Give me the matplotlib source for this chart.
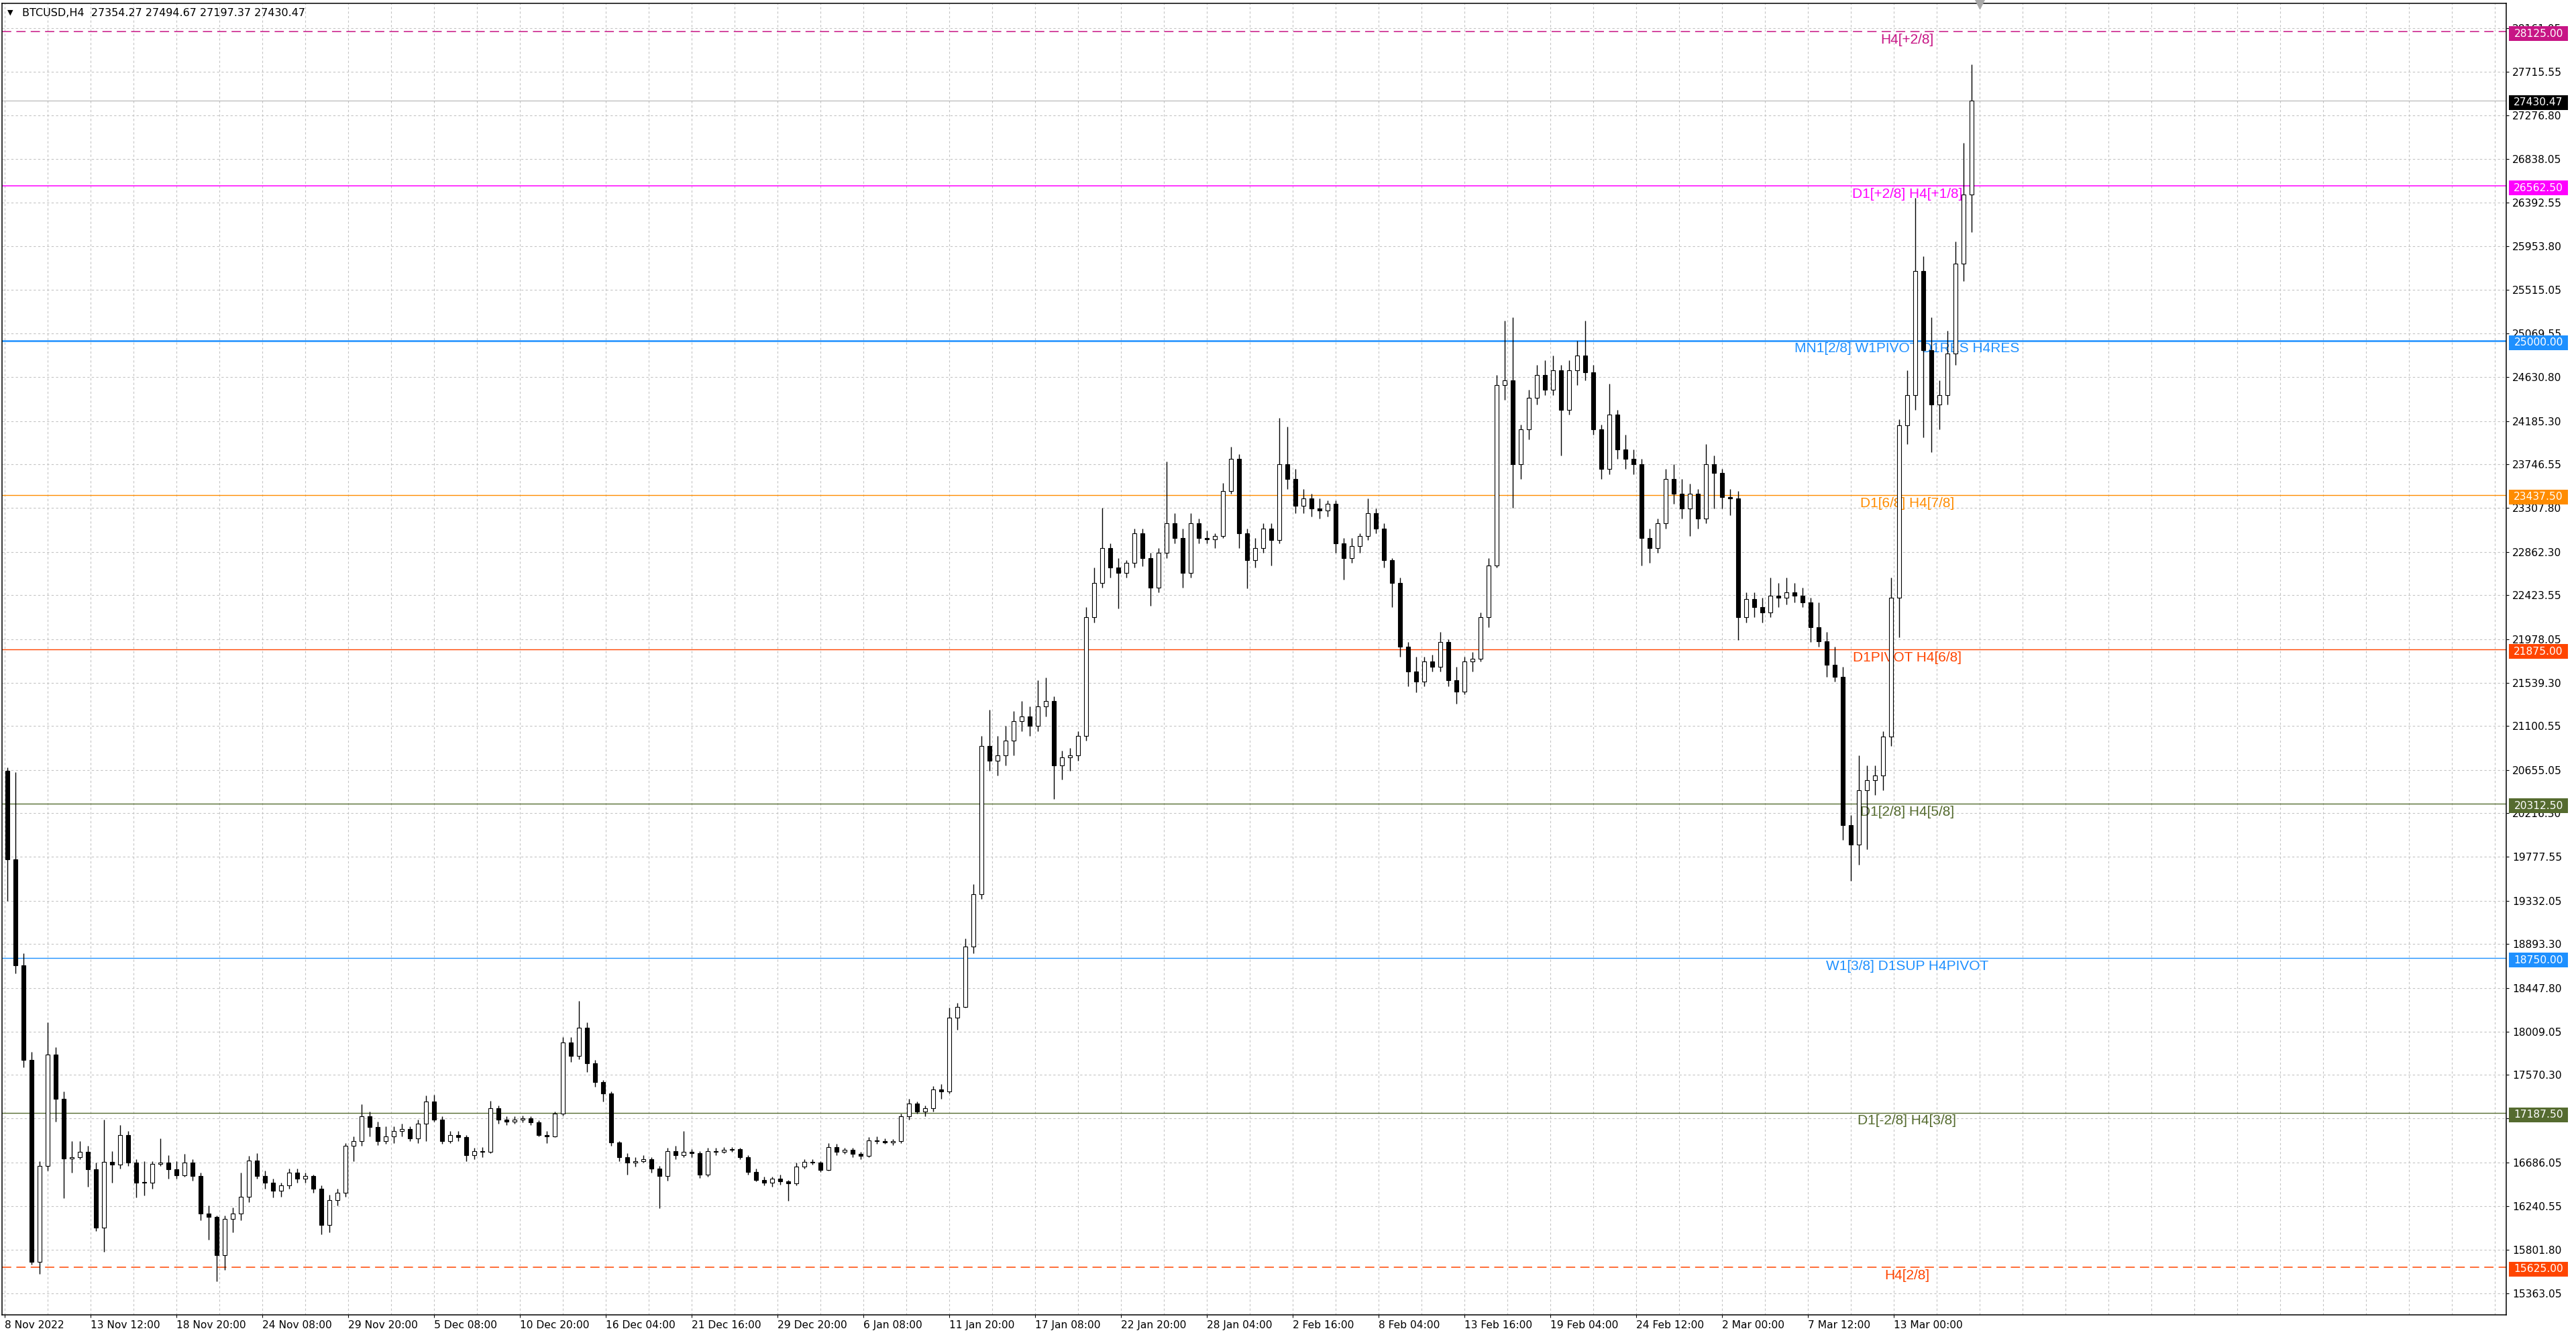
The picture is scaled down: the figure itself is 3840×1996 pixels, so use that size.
import matplotlib
matplotlib.use("Agg")
import matplotlib.pyplot as plt
import matplotlib.transforms as mtransforms
from matplotlib.patches import Rectangle
import numpy as np

# 12h candles (3 H4 bars per candle)
opens = [20650, 19750, 18676, 17724, 15681, 16650, 17776, 17326, 16727, 16737,
         16790, 16616, 16027, 16690, 16660, 16962, 16685, 16480, 16478, 16670,
         16685, 16616, 16555, 16685, 16547, 16166, 16131, 15750, 16114, 16166,
         16340, 16703, 16550, 16480, 16400, 16450, 16583, 16520, 16545, 16420,
         16050, 16300, 16380, 16850, 16900, 17150, 17040, 16900, 16950, 17000,
         17020, 16930, 17080, 17300, 17120, 16900, 16960, 16940, 16760, 16800,
         16790, 17230, 17120, 17100, 17118, 17130, 17090, 16960, 16950, 17180,
         17900, 17760, 18050, 17690, 17500, 17380, 16890, 16736, 16680, 16700,
         16720, 16620, 16545, 16800, 16760, 16790, 16780, 16560, 16800, 16790,
         16812, 16820, 16740, 16590, 16510, 16480, 16520, 16490, 16470, 16640,
         16690, 16680, 16610, 16840, 16790, 16810, 16770, 16750, 16910, 16900,
         16890, 16900, 17150, 17280, 17200, 17233, 17420, 17400, 18150, 18260,
         18869, 19400, 20900, 20750, 20800, 20950, 21150, 21200, 21100, 21300,
         21350, 20700, 20780, 20800, 21000, 22200, 22550, 22900, 22700, 22650,
         22750, 23050, 22800, 22500, 22850, 23150, 23000, 22650, 23150, 23000,
         22990, 23020, 23480, 23800, 23050, 22780, 22900, 23100, 22980, 23750,
         23600, 23330, 23400, 23300, 23280, 23350, 22950, 22800, 22920, 23020,
         23250, 23100, 22780, 22550, 21900, 21650, 21550, 21750, 21700, 21950,
         21560, 21450, 21750, 21780, 22200, 22726, 24550, 24600, 23750, 24100,
         24420, 24650, 24500, 24700, 24300, 24700, 24850, 24680, 24100, 23700,
         24250, 23900, 23800, 23750, 23000, 22900, 23150, 23600, 23450, 23300,
         23450, 23200, 23750, 23660, 23415, 23400, 22200, 22385, 22300, 22250,
         22420, 22400, 22450, 22420, 22350, 22100, 21960, 21720, 21600, 20100,
         19900, 20450, 20550, 20600, 20990, 22400, 24143, 24450, 25700, 24900,
         24350, 24450, 24870, 25780, 26480]
highs = [20680, 20630, 18800, 17800, 16700, 18105, 17850, 17400, 16900, 16900,
         16850, 16680, 17118, 16800, 17066, 17000, 16720, 16700, 16700, 16930,
         16760, 16700, 16772, 16720, 16580, 16250, 16150, 16150, 16230, 16580,
         16750, 16780, 16600, 16520, 16480, 16620, 16620, 16580, 16560, 16450,
         16360, 16420, 16880, 16950, 17271, 17200, 17100, 17050, 17050, 17080,
         17050, 17120, 17360, 17366, 17150, 17000, 17000, 16960, 16830, 16840,
         17309, 17260, 17150, 17150, 17160, 17150, 17110, 17000, 17200, 17950,
         17950, 18321, 18100, 17720, 17520, 17400, 16900, 16780, 16740, 16760,
         16740, 16650, 16830, 16850, 17004, 16820, 16800, 16830, 16830, 16840,
         16840, 16830, 16760, 16620, 16540, 16540, 16560, 16510, 16680, 16720,
         16720, 16700, 16880, 16870, 16830, 16830, 16790, 16940, 16950, 16930,
         16920, 17180, 17330, 17300, 17260, 17460, 17480, 18250, 18300, 18950,
         19500, 21000, 21265, 21000, 21100, 21250, 21350, 21300, 21560, 21590,
         21400, 20850, 20880, 21050, 22300, 22700, 23310, 22950, 22800, 22780,
         23100, 23100, 22850, 22900, 23777, 23250, 23100, 23250, 23200, 23080,
         23050, 23560, 23924, 23850, 23100, 23000, 23150, 23150, 24216, 24128,
         23700, 23500, 23450, 23400, 23380, 23380, 23000, 23000, 23050, 23400,
         23300, 23150, 22800, 22600, 21950, 21800, 21800, 21820, 22050, 21980,
         21700, 21800, 21850, 22250, 22800, 24650, 25200, 25237, 24150, 24500,
         24750, 24800, 24850, 24750, 24800, 25000, 25200, 24750, 24150, 24560,
         24300, 24050, 23900, 23800, 23100, 23200, 23700, 23750, 23600, 23550,
         23500, 23950, 23840, 23700, 23500, 23480, 22450, 22450, 22400, 22600,
         22550, 22600, 22550, 22500, 22400, 22350, 22050, 21900, 21700, 20200,
         20800, 20700, 20700, 21050, 22600, 24200, 24700, 26445, 25850, 25233,
         24600, 25100, 26000, 27000, 27791]
lows = [19330, 18600, 17650, 15650, 15560, 16600, 17100, 16322, 16580, 16720,
        16440, 15990, 15780, 16480, 16620, 16650, 16330, 16350, 16420, 16650,
        16520, 16520, 16540, 16500, 16100, 15900, 15480, 15600, 15980, 16100,
        16280, 16520, 16420, 16330, 16340, 16420, 16480, 16480, 16380, 15960,
        15980, 16250, 16340, 16700, 16850, 16950, 16860, 16870, 16880, 16950,
        16900, 16880, 16900, 17100, 16870, 16880, 16900, 16700, 16720, 16740,
        16780, 17080, 17060, 17080, 17090, 17060, 16950, 16880, 16940, 17160,
        17700, 17730, 17600, 17450, 17300, 16850, 16700, 16560, 16640, 16680,
        16580, 16221, 16500, 16720, 16740, 16740, 16530, 16540, 16760, 16780,
        16790, 16720, 16560, 16490, 16450, 16440, 16460, 16297, 16450, 16620,
        16660, 16590, 16600, 16760, 16770, 16740, 16720, 16740, 16870, 16870,
        16860, 16880, 17120, 17180, 17150, 17200, 17330, 17380, 18030, 18250,
        18800, 19350, 20650, 20600, 20700, 20800, 21050, 21000, 21050, 21200,
        20360, 20560, 20650, 20750, 20950, 22150, 22500, 22600, 22290, 22600,
        22700, 22720, 22317, 22450, 22800, 22950, 22500, 22600, 22950, 22950,
        22900, 23000, 23450, 22900, 22492, 22700, 22850, 22726, 22950, 23500,
        23250, 23250, 23220, 23200, 23220, 22850, 22580, 22750, 22850, 22980,
        23050, 22700, 22300, 21800, 21500, 21440, 21500, 21650, 21650, 21500,
        21323, 21420, 21650, 21750, 22100, 22700, 24400, 23310, 23600, 24000,
        24350, 24450, 24450, 23836, 24250, 24550, 24600, 24050, 23600, 23650,
        23800, 23700, 23650, 22726, 22750, 22850, 23100, 23350, 23200, 23020,
        23100, 23150, 23300, 23300, 23234, 21973, 22150, 22200, 22150, 22200,
        22300, 22330, 22350, 22300, 21950, 21900, 21600, 21550, 19950, 19537,
        19700, 19850, 20400, 20450, 20900, 22000, 23950, 24300, 24021, 23870,
        24100, 24350, 24750, 25600, 26100]
closes = opens[1:] + [27430.47]

date_labels = ["8 Nov 2022", "13 Nov 12:00", "18 Nov 20:00", "24 Nov 08:00",
               "29 Nov 20:00", "5 Dec 08:00", "10 Dec 20:00", "16 Dec 04:00",
               "21 Dec 16:00", "29 Dec 20:00", "6 Jan 08:00", "11 Jan 20:00",
               "17 Jan 08:00", "22 Jan 20:00", "28 Jan 04:00", "2 Feb 16:00",
               "8 Feb 04:00", "13 Feb 16:00", "19 Feb 04:00", "24 Feb 12:00",
               "2 Mar 00:00", "7 Mar 12:00", "13 Mar 00:00"]
price_ticks = [28161.05, 27715.55, 27276.80, 26838.05, 26392.55, 25953.80,
               25515.05, 25069.55, 24630.80, 24185.30, 23746.55, 23307.80,
               22862.30, 22423.55, 21978.05, 21539.30, 21100.55, 20655.05,
               20216.30, 19777.55, 19332.05, 18893.30, 18447.80, 18009.05,
               17570.30, 17131.55, 16686.05, 16240.55, 15801.80, 15363.05]

levels = [28125.0, 26562.5, 25000.0, 23437.5, 21875.0, 20312.5, 18750.0, 17187.5, 15625.0]
level_names = ["H4[+2/8]", "D1[+2/8] H4[+1/8]", "MN1[2/8] W1PIVOT D1RES H4RES",
               "D1[6/8] H4[7/8]", "D1PIVOT H4[6/8]", "D1[2/8] H4[5/8]",
               "W1[3/8] D1SUP H4PIVOT", "D1[-2/8] H4[3/8]", "H4[2/8]"]
level_colors = ["#C71585", "#FF00FF", "#1E90FF", "#FF8C00", "#FF4500",
                "#556B2F", "#1E90FF", "#556B2F", "#FF4500"]
level_styles = [(0, (9, 5)), "-", "-", "-", "-", "-", "-", "-", (0, (9, 5))]
level_widths = [1.1, 1.1, 1.8, 1.0, 1.0, 1.0, 1.0, 1.0, 1.1]

last_price = 27430.47
title = "BTCUSD,H4  27354.27 27494.67 27197.37 27430.47"

W, H = 3840, 1996
fig = plt.figure(figsize=(W / 100, H / 100), dpi=100)
ax = fig.add_axes([3 / W, 36 / H, 3733 / W, 1955 / H])
ax.set_xlim(-0.9, 932.3)
ax.set_ylim(15142.6, 28411.2)
per_px = (28411.2 - 15142.6) / 1955

# grid
ax.set_xticks(np.arange(len(date_labels)) * 32)
ax.set_xticklabels(date_labels, ha="left", fontsize=11.2)
ax.set_xticks(np.arange(0, 933, 16), minor=True)
ax.set_yticks(price_ticks)
ax.set_yticklabels([f"{v:.2f}" for v in price_ticks], fontsize=11.2)
ax.yaxis.tick_right()
ax.tick_params(axis="y", which="major", length=2.9, width=0.8, pad=3.6, direction="out")
ax.tick_params(axis="x", which="major", length=2.9, width=0.8, pad=3.0, direction="out")
ax.tick_params(axis="x", which="minor", length=0)
ax.grid(True, which="both", axis="x", color="#C4C4C4", linestyle=(0, (3, 3)), linewidth=0.8, zorder=0)
ax.grid(True, which="major", axis="y", color="#C4C4C4", linestyle=(0, (3, 3)), linewidth=0.8, zorder=0)
ax.set_axisbelow(True)
for s in ax.spines.values():
    s.set_linewidth(1.1)
    s.set_color("black")

# level lines and labels
for val, name, col, ls, lw in zip(levels, level_names, level_colors, level_styles, level_widths):
    ax.axhline(val, color=col, linestyle=ls, linewidth=lw, zorder=1)
    ax.annotate(name, xy=(709, val), xytext=(0, -2), textcoords="offset points",
                ha="center", va="top", color=col, fontsize=15,
                family="Liberation Sans", zorder=2)
ax.axhline(last_price, color="#B4B4B4", linewidth=0.8, zorder=1)

# candles
o = np.array(opens, dtype=float)
c = np.array(closes, dtype=float)
hi = np.array(highs, dtype=float)
lo = np.array(lows, dtype=float)
xs = np.arange(len(o)) * 3 + 1
ax.vlines(xs, lo, hi, color="black", linewidth=1.0, zorder=3)
bull = c >= o
body_h = np.maximum(np.abs(c - o), 8)
ax.bar(xs[bull], body_h[bull], width=1.5, bottom=np.minimum(o, c)[bull],
       facecolor="white", edgecolor="black", linewidth=0.8, zorder=4)
ax.bar(xs[~bull], body_h[~bull], width=1.5, bottom=np.minimum(o, c)[~bull],
       facecolor="black", edgecolor="black", linewidth=0.8, zorder=4)

# price tags on the right scale (drawn a few pixels below their line, as in MT4)
trans = mtransforms.blended_transform_factory(ax.transAxes, ax.transData)
tag_h = 22 * per_px
tag_vals = levels + [last_price]
tag_cols = level_colors + ["black"]
for val, col in zip(tag_vals, tag_cols):
    yc = val - 3 * per_px
    ax.add_patch(Rectangle((1.0011, yc - tag_h / 2), 88 / 3733, tag_h, transform=trans,
                           facecolor=col, edgecolor="none", clip_on=False, zorder=10))
    ax.text(1.0011 + 44 / 3733, yc, f"{val:.2f}", transform=trans, ha="center", va="center",
            color="white", fontsize=11.2, clip_on=False, zorder=11)

# chart shift marker
ax.plot([736], [28411.2], marker="v", markersize=11, color="#A8A8A8", clip_on=False, zorder=5)

# header
fig.text(15 / W, 1 - 19 / H, "\u25BC", ha="center", va="center", fontsize=8, color="black")
fig.text(33 / W, 1 - 19 / H, title, ha="left", va="center", fontsize=11.5, color="black")

fig.savefig("out.png", dpi=100, facecolor="white")
